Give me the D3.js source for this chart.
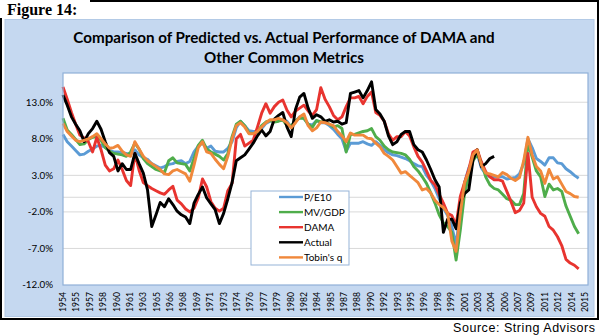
<!DOCTYPE html>
<html>
<head>
<meta charset="utf-8">
<script src="https://cdn.jsdelivr.net/npm/d3@7/dist/d3.min.js"></script>
<style>
  body { margin: 0; background: #ffffff; }
  svg { display: block; }
</style>
</head>
<body>
<div id="canvas"></div>
<script>
// half-year samples starting Jan 1954
const startYear = 1954;
const stepYears = 0.5;

const tickYears = ["1954","1955","1957","1958","1960","1961","1963","1965","1966","1968",
                   "1969","1971","1973","1974","1976","1977","1979","1980","1982","1984",
                   "1985","1987","1988","1990","1992","1993","1995","1996","1998","1999",
                   "2001","2003","2004","2006","2007","2009","2011","2012","2014","2015"];
const yTicks = [-12, -7, -2, 3, 8, 13];

const seriesNames = ["P/E10", "MV/GDP", "DAMA", "Actual", "Tobin's q"];

const pe10 = [8.6, 7.6, 7.0, 6.4, 5.8, 5.9, 6.3, 6.6, 7.0, 7.1, 6.8, 6.4, 6.2, 6.2, 6.1, 6.0, 5.8, 6.5, 5.8, 5.4,
              5.2, 4.6, 4.3, 4.0, 4.2, 4.5, 4.6, 4.9, 5.0, 4.6, 4.9,
              6.2, 7.0, 7.4, 6.7, 7.0, 6.3, 6.2, 6.2, 6.7, 7.6, 9.5, 10.4, 9.8, 9.1, 9.0, 9.0, 9.4, 10.1, 10.4, 10.6,
              10.6, 10.5, 10.4, 9.6, 10.4, 11.0, 10.8, 10.0, 9.9, 10.5, 10.2,
              10.2, 9.8, 9.3, 8.6, 8.0, 6.3, 7.4, 7.4, 7.4, 7.6, 7.3, 7.1, 7.6, 7.1, 6.5, 6.1, 5.8, 5.7, 5.5, 5.3,
              5.0, 4.6, 4.3, 4.2, 3.0, 2.3, 1.2, -0.2, -1.5, -2.5, -4.0,
              -6.5, -1.8, 2.0, 4.0, 5.3, 5.9, 4.0, 3.2, 2.8, 2.8, 2.8, 2.8, 2.5, 2.6, 2.7, 3.2, 4.6, 8.0, 6.8, 5.3,
              4.9, 4.4, 5.4, 5.4, 4.7, 4.6, 3.9, 3.5, 3.0, 2.6];

const mvgdp = [10.8, 9.2, 8.6, 7.9, 7.2, 7.3, 7.9, 8.2, 8.3, 7.8, 6.8, 6.3, 6.0, 5.9, 5.8, 5.6, 6.2, 7.4, 6.6, 5.3,
               4.6, 4.2, 3.8, 3.6, 3.4, 5.0, 5.4, 4.7, 4.6, 4.5, 3.6,
               5.3, 7.1, 7.8, 6.6, 6.2, 5.9, 5.6, 5.1, 6.0, 8.3, 10.0, 10.4, 9.8, 8.8, 8.7, 8.9, 9.8, 10.3, 10.5, 10.3,
               10.4, 10.6, 9.8, 9.8, 10.5, 10.8, 10.8, 10.0, 9.6, 10.5, 10.3,
               10.4, 10.0, 9.6, 9.8, 9.4, 6.2, 8.6, 8.6, 8.8, 9.0, 9.1, 9.4, 8.3, 7.8, 7.0, 6.5, 6.2, 6.1, 6.0, 5.8,
               5.2, 4.2, 3.6, 2.8, 1.9, 0.6, -0.8, -2.4, -3.5, -4.0, -4.8,
               -8.6, -4.5, 0.5, 3.0, 5.0, 5.8, 4.8, 2.8, 1.7, 1.2, 1.0, 0.4, -0.2, -0.4, -1.0, -1.0, 0.5, 7.4, 5.5, 3.6,
               2.8, 0.1, 1.8, 1.0, 1.2, 0.8, -1.2, -2.6, -4.0, -5.0];

const dama = [15.1, 13.4, 11.6, 10.0, 8.5, 8.1, 7.6, 6.2, 8.2, 6.5, 4.4, 3.6, 3.9, 5.1, 3.8, 2.3, 1.6, 6.0, 3.7, 2.0,
              1.6, 1.2, 0.9, 0.6, 0.4, 1.0, 1.5, -0.4, -0.9, -1.6, -2.0,
              -1.5, -0.1, 2.5, 1.4, -0.6, -1.5, -1.9, -1.5, 0.9, 1.9, 8.0, 8.6, 7.0, 7.4, 7.8, 9.6, 11.5, 12.8, 11.5, 12.4,
              13.0, 13.3, 11.9, 11.0, 11.8, 12.2, 12.6, 11.8, 11.2, 12.0, 15.0,
              13.4, 12.4, 11.2, 10.6, 11.0, 12.4, 13.6, 13.6, 13.8, 12.8, 13.8, 14.4, 11.6, 11.2, 10.4, 8.7, 7.8, 8.3, 8.3, 9.0,
              8.4, 6.9, 5.6, 4.8, 3.6, 2.3, 1.7, 0.4, -0.8, -2.2, -2.5,
              -3.8, 0.1, 2.0, 3.8, 6.2, 6.5, 4.8, 3.5, 2.8, 2.4, 2.4, 2.2, 0.8, -0.6, -2.1, -1.8, -0.8, 6.0, 0.0, -1.3,
              -2.2, -2.6, -4.0, -4.5, -5.4, -6.6, -8.5, -9.0, -9.3, -9.8];

const actual = [14.0, 12.6, 11.0, 10.0, 9.1, 7.6, 8.7, 9.4, 10.4, 9.3, 7.6, 6.1, 5.6, 3.6, 4.6, 3.8, 3.8, 6.0, 4.6, 3.3,
                1.0, -4.0, -2.4, -0.7, -1.3, -0.2, -1.0, -1.9, -2.4, -2.7, -3.6,
                -0.8, 0.4, 1.4, -0.1, -0.9, -1.7, -3.6, -2.2, -0.2, 2.0, 5.0, 5.4, 5.8, 6.6, 7.4, 8.4, 9.2, 8.4, 9.0, 10.7,
                11.2, 11.6, 9.6, 8.3, 12.0, 13.7, 14.2, 12.2, 10.8, 11.3, 11.0,
                10.4, 10.6, 10.3, 10.4, 10.0, 10.2, 14.2, 14.4, 14.6, 13.6, 14.6, 15.8, 12.0, 11.4, 10.4, 8.4, 7.2, 7.6, 8.6, 9.0,
                9.0, 7.2, 6.5, 6.2, 5.1, 3.8, 2.4, 1.4, -4.8, -3.0, -3.0,
                -4.3, -0.8, 0.5, 1.0, 5.1, 6.5, 4.2, 4.6, 5.3, 5.6];

const tobinsQ = [10.1, 9.0, 8.4, 7.8, 7.6, 7.8, 8.0, 8.3, 8.7, 8.0, 7.3, 6.7, 6.8, 7.1, 6.3, 5.8, 5.6, 7.6, 6.6, 5.6,
                 5.0, 4.6, 4.2, 3.8, 3.2, 3.1, 3.6, 3.8, 3.5, 3.2, 2.2,
                 4.4, 6.8, 7.6, 6.2, 6.0, 5.2, 4.5, 3.9, 5.6, 8.0, 9.8, 10.2, 9.6, 8.7, 8.7, 9.0, 9.6, 10.2, 10.6, 10.6,
                 10.8, 10.6, 10.2, 9.5, 10.2, 11.0, 11.4, 9.8, 9.1, 9.5, 10.3,
                 10.2, 10.0, 9.8, 9.0, 8.4, 7.6, 8.8, 8.5, 8.5, 8.5, 8.1, 8.0, 7.4, 6.9, 6.0, 5.6, 5.1, 4.2, 3.3, 3.5,
                 3.0, 2.5, 2.0, 1.0, 1.2, 0.6, -0.4, -1.0, -1.4, -2.2, -6.0,
                 -7.4, -2.2, 2.0, 3.5, 5.8, 6.5, 4.4, 3.3, 3.2, 3.0, 2.8, 3.4, 3.1, 2.6, 2.3, 2.7, 5.0, 8.2, 5.8, 4.2,
                 3.6, 1.9, 3.8, 2.5, 2.8, 1.8, 0.8, 0.5, 0.1, 0.0];

const seriesValues = [pe10, mvgdp, dama, actual, tobinsQ];
const seriesColors = ["#5b9bd5", "#4fad4b", "#e8342f", "#000000", "#f0883b"];

const w = 600;
const h = 335;
const plotArea = { left: 63, right: 588, top: 73, bottom: 285 };
const bodyFont = "Lato, 'Open Sans', sans-serif";

const svg = d3.select("#canvas")
              .append("svg")
              .attr("width", w)
              .attr("height", h);

// 19 months between category labels
const labelStep = 19 / 12;

const x = d3.scaleLinear()
            .domain([startYear, startYear + labelStep * (tickYears.length - 1)])
            .range([63, 585]);

const y = d3.scaleLinear()
            .domain([-12, 17])
            .range([plotArea.bottom, plotArea.top]);

function drawFrame(){
  svg.append("rect")
     .attr("x", 1).attr("y", 1)
     .attr("width", 597).attr("height", 318)
     .style("fill", "none")
     .style("stroke", "#000")
     .style("stroke-width", 2);

  // white patch behind the figure heading
  svg.append("rect")
     .attr("x", 0).attr("y", 0)
     .attr("width", 90).attr("height", 18)
     .style("fill", "#fff");

  svg.append("text")
     .attr("x", 7).attr("y", 15)
     .style("font-family", "'Liberation Serif', 'DejaVu Serif', serif")
     .style("font-weight", "bold")
     .style("font-size", "16px")
     .text("Figure 14:");

  svg.append("rect")
     .attr("x", 5).attr("y", 19.5)
     .attr("width", 589).attr("height", 297)
     .style("fill", "#c5d8f0")
     .style("stroke", "#b3cae6");

  svg.append("text")
     .attr("x", 595).attr("y", 332)
     .attr("text-anchor", "end")
     .style("font-family", "'Liberation Sans', Arial, sans-serif")
     .style("font-size", "12.5px")
     .attr("textLength", 142)
     .attr("lengthAdjust", "spacing")
     .text("Source: String Advisors");
}

function fitText(sel, width){
  const len = sel.node().getComputedTextLength();
  const size = parseFloat(sel.style("font-size"));
  sel.style("font-size", (size * width / len) + "px");
}

function drawTitle(){
  const lines = ["Comparison of Predicted vs. Actual Performance of DAMA and", "Other Common Metrics"];
  const l1 = svg.append("text")
     .attr("x", 284).attr("y", 43)
     .attr("text-anchor", "middle")
     .style("font-family", bodyFont)
     .style("font-weight", "bold")
     .style("font-size", "15px")
     .text(lines[0]);
  fitText(l1, 422);
  svg.append("text")
     .attr("x", 284).attr("y", 63)
     .attr("text-anchor", "middle")
     .style("font-family", bodyFont)
     .style("font-weight", "bold")
     .style("font-size", l1.style("font-size"))
     .text(lines[1]);
}

function drawAxis(){
  svg.append("rect")
     .attr("x", plotArea.left).attr("y", plotArea.top)
     .attr("width", plotArea.right - plotArea.left)
     .attr("height", plotArea.bottom - plotArea.top)
     .style("fill", "#fff");

  const grid = svg.append("g").classed("grid", true);
  grid.selectAll("line")
      .data(yTicks.slice(1).concat([0]))
      .enter()
      .append("line")
      .attr("x1", plotArea.left).attr("x2", plotArea.right)
      .attr("y1", d => y(d)).attr("y2", d => y(d))
      .style("stroke", "#d9d9d9")
      .style("stroke-width", 1);

  svg.append("g")
     .classed("y axis", true)
     .selectAll("text")
     .data(yTicks)
     .enter()
     .append("text")
     .attr("x", 53)
     .attr("y", d => y(d))
     .attr("dy", "0.35em")
     .attr("text-anchor", "end")
     .style("font-family", bodyFont)
     .style("font-size", "9.8px")
     .text(d => d.toFixed(1) + "%");

  svg.append("g")
     .classed("x axis", true)
     .selectAll("text")
     .data(tickYears)
     .enter()
     .append("text")
     .attr("transform", (d, i) => "translate(" + x(startYear + i * labelStep) + ",292) rotate(-90)")
     .attr("dy", "0.35em")
     .attr("text-anchor", "end")
     .style("font-family", bodyFont)
     .style("font-size", "8.6px")
     .text(d => d);
}

function plot(){
  const line = d3.line()
                 .x((d, i) => x(startYear + i * stepYears))
                 .y(d => y(d));

  svg.append("g")
     .classed("series", true)
     .selectAll("path")
     .data(seriesValues)
     .enter()
     .append("path")
     .attr("d", line)
     .style("fill", "none")
     .style("stroke", (d, i) => seriesColors[i])
     .style("stroke-width", 2.9)
     .style("stroke-linejoin", "round");

  // plot frame on top of the lines
  svg.append("rect")
     .attr("x", plotArea.left).attr("y", plotArea.top)
     .attr("width", plotArea.right - plotArea.left)
     .attr("height", plotArea.bottom - plotArea.top)
     .style("fill", "none")
     .style("stroke", "#8fb0d8")
     .style("stroke-width", 1.2);
}

function drawLegend(){
  const legend = svg.append("g").classed("legend", true);
  legend.append("rect")
        .attr("x", 251).attr("y", 191)
        .attr("width", 98).attr("height", 74)
        .style("fill", "#fff")
        .style("stroke", "#95b3d7");

  const rows = legend.selectAll(".row")
        .data(seriesNames)
        .enter()
        .append("g")
        .classed("row", true)
        .attr("transform", (d, i) => "translate(279," + (197 + i * 15.1) + ")");

  rows.append("line")
      .attr("x1", 0).attr("x2", 24)
      .style("stroke", (d, i) => seriesColors[i])
      .style("stroke-width", 2.4);

  rows.append("text")
      .attr("x", 25)
      .attr("dy", "0.35em")
      .style("font-family", bodyFont)
      .style("font-size", "10px")
      .text(d => d);
}

drawFrame();
drawTitle();
drawAxis();
plot();
drawLegend();
</script>
</body>
</html>
